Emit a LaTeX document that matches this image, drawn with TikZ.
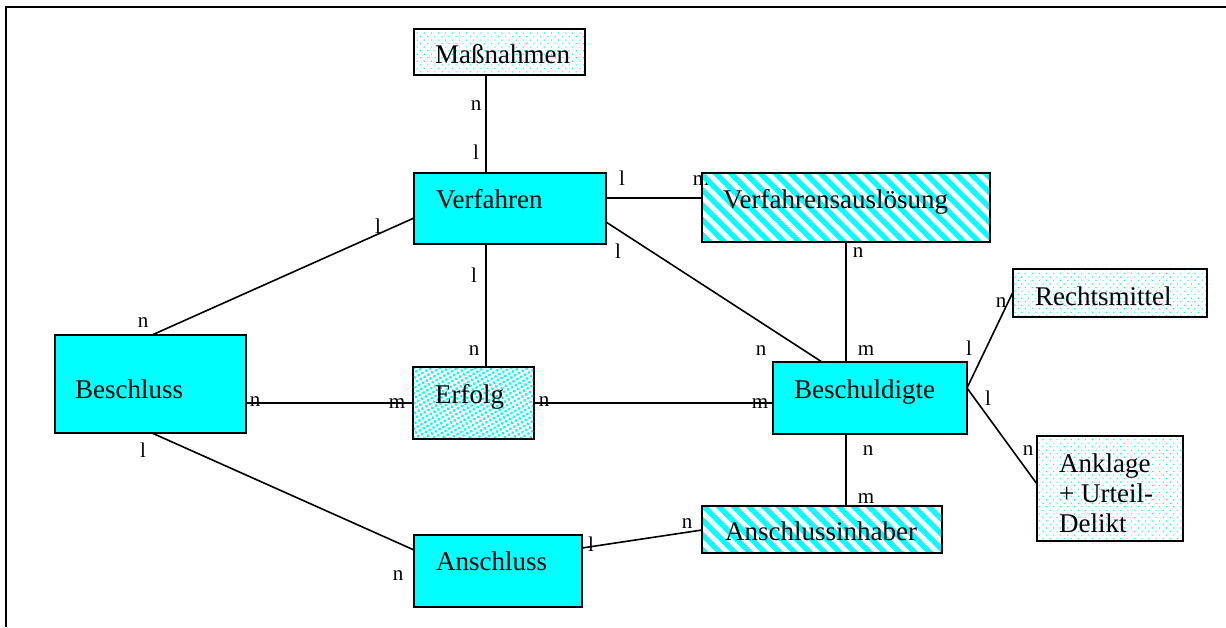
\documentclass[tikz,border=0pt]{standalone}
\usepackage{fontspec}
\setmainfont{Liberation Serif}
\usetikzlibrary{calc,patterns.meta}
\definecolor{aqua}{RGB}{0,255,255}
\pgfdeclarelayer{bg}
\pgfsetlayers{bg,main}
\begin{document}
\begin{tikzpicture}[x=1pt,y=-1pt,
  ent/.style={draw=black,line width=2pt,rectangle,inner sep=0pt,outer sep=0pt},
  solidbox/.style={ent,fill=aqua},
  stripebox/.style={ent,fill=white,pattern={Lines[angle=-45,distance=10.6pt,line width=5.3pt]},pattern color=aqua},
  dotbox/.style={ent,fill=white,pattern={Dots[radius=0.8pt,distance=5pt,angle=45]},pattern color=aqua},
  densebox/.style={ent,fill=white,pattern={Dots[radius=1.65pt,distance=4.4pt,angle=30]},pattern color=aqua},
  txt/.style={anchor=base west,inner sep=0pt,font=\fontsize{27}{31}\selectfont},
  lab/.style={anchor=base,inner sep=0pt,font=\fontsize{21}{24}\selectfont},
  con/.style={line width=1.6pt,black}]
\useasboundingbox (0,0) rectangle (1226,627);
\draw[line width=2.4pt] (6,627) -- (6,7) -- (1226,7);

% boxes
\node[dotbox,minimum width=171pt,minimum height=46pt] (massn) at (499.5,52) {};
\node[solidbox,minimum width=192pt,minimum height=71pt] (verf) at (510,208.5) {};
\node[stripebox,minimum width=288pt,minimum height=69pt] (vausl) at (846,207.5) {};
\node[dotbox,minimum width=194pt,minimum height=48pt] (recht) at (1110,293) {};
\node[solidbox,minimum width=191pt,minimum height=98pt] (beschl) at (150.5,384) {};
\node[densebox,minimum width=121pt,minimum height=72pt] (erfolg) at (473.5,403) {};
\node[solidbox,minimum width=194pt,minimum height=72pt] (beschu) at (870,398) {};
\node[dotbox,minimum width=146pt,minimum height=105pt] (ankl) at (1110,488.5) {};
\node[solidbox,minimum width=168pt,minimum height=72pt] (anschl) at (498,571) {};
\node[stripebox,minimum width=240pt,minimum height=47pt] (ainh) at (822,529.5) {};

% texts
\node[txt] (tmassn) at ($(massn.north west)+(21,34)$) {Maßnahmen};
\node[txt] (tverf) at ($(verf.north west)+(22,35)$) {Verfahren};
\node[txt] (tvausl) at ($(vausl.north west)+(21,35)$) {Verfahrensauslösung};
\node[txt] (trecht) at ($(recht.north west)+(22,36)$) {Rechtsmittel};
\node[txt] (tbeschl) at ($(beschl.north west)+(20,63)$) {Beschluss};
\node[txt] (terfolg) at ($(erfolg.north west)+(22,36)$) {Erfolg};
\node[txt] (tbeschu) at ($(beschu.north west)+(21,36)$) {Beschuldigte};
\node[txt] (tankl1) at ($(ankl.north west)+(22,36)$) {Anklage};
\node[txt] (tankl2) at ($(ankl.north west)+(22,66)$) {+ Urteil-};
\node[txt] (tankl3) at ($(ankl.north west)+(22,96)$) {Delikt};
\node[txt] (tanschl) at ($(anschl.north west)+(22,35)$) {Anschluss};
\node[txt] (tainh) at ($(ainh.north west)+(23,34)$) {Anschlussinhaber};

\begin{pgfonlayer}{bg}
% connectors
\draw[con] ($(massn.south west)+(72,0)$) -- ($(verf.north west)+(72,0)$);
\draw[con] ($(verf.north east)+(0,25)$) -- ($(vausl.north west)+(0,25)$);
\draw[con] ($(verf.north east)+(0,49)$) -- ($(beschu.north west)+(49,0)$);
\draw[con] (vausl.south) -- (vausl.south |- beschu.north);
\draw[con] ($(verf.north west)+(0,45)$) -- ($(beschl.north west)+(97,0)$);
\draw[con] ($(verf.south west)+(72,0)$) -- ($(erfolg.north west)+(73,0)$);
\draw[con] (erfolg.west -| beschl.east) -- (erfolg.west);
\draw[con] (erfolg.east) -- (erfolg.east -| beschu.west);
\draw[con] ($(beschl.south west)+(97,0)$) -- ($(anschl.north west)+(0,15)$);
\draw[con] ($(anschl.north east)+(0,13)$) -- ($(ainh.north west)+(0,24)$);
\draw[con] ($(beschu.south west)+(73,0)$) -- ($(ainh.north west)+(144,0)$);
\draw[con] ($(beschu.north east)+(0,26)$) -- ($(recht.north west)+(0,23)$);
\draw[con] ($(beschu.north east)+(0,26)$) -- ($(ankl.north west)+(0,48)$);

% cardinality labels
\node[lab] (c1) at (476,110) {n};
\node[lab] (c2) at (476,159) {l};
\node[lab] (c3) at (622,185) {l};
\node[lab] (c4) at (701,185) {m};
\node[lab] (c5) at (378,233) {l};
\node[lab] (c6) at (143,327) {n};
\node[lab] (c7) at (474,282) {l};
\node[lab] (c8) at (474,355) {n};
\node[lab] (c9) at (618,258) {l};
\node[lab] (c10) at (761,355) {n};
\node[lab] (c11) at (858,257) {n};
\node[lab] (c12) at (866,355) {m};
\node[lab] (c13) at (255,406) {n};
\node[lab] (c14) at (397,408) {m};
\node[lab] (c15) at (544,406) {n};
\node[lab] (c16) at (760,408) {m};
\node[lab] (c17) at (143,457) {l};
\node[lab] (c18) at (398,580) {n};
\node[lab] (c19) at (591,551) {l};
\node[lab] (c20) at (687,528) {n};
\node[lab] (c21) at (868,455) {n};
\node[lab] (c22) at (866,503) {m};
\node[lab] (c23) at (1001,307) {n};
\node[lab] (c24) at (969,355) {l};
\node[lab] (c25) at (988,405) {l};
\node[lab] (c26) at (1028,455) {n};
\end{pgfonlayer}
\end{tikzpicture}
\end{document}
